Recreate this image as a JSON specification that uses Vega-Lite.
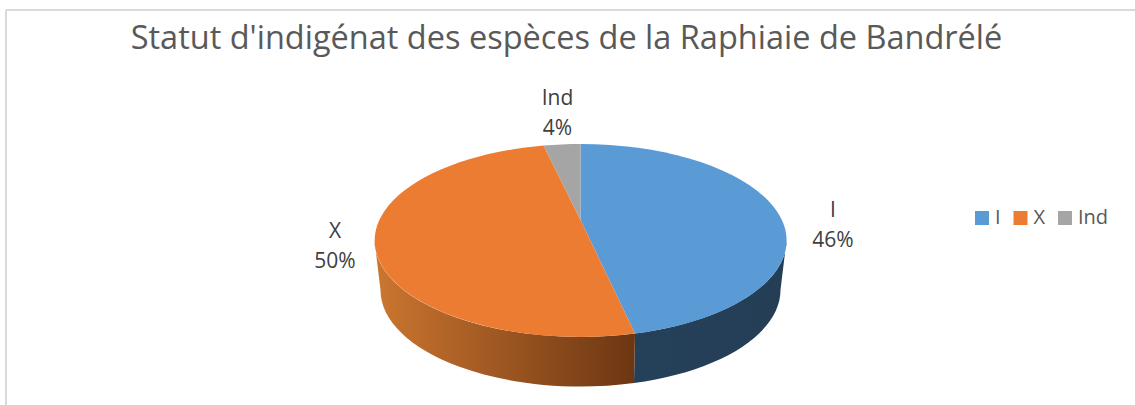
{
  "$schema": "https://vega.github.io/schema/vega-lite/v6.json",
  "width": 1129,
  "height": 395,
  "autosize": "none",
  "padding": {"left": 6, "top": 10, "right": 0, "bottom": 0},
  "background": "white",
  "view": {"stroke": null},
  "config": {"font": "Open Sans"},
  "title": {
    "text": "Statut d'indigénat des espèces de la Raphiaie de Bandrélé",
    "font": "Open Sans",
    "fontSize": 32.5,
    "fontWeight": "normal",
    "color": "#595959",
    "anchor": "middle",
    "offset": -46,
    "dx": -4
  },
  "data": {
    "values": [
      {"statut": "I", "pct": 46, "etiquette": "I\n46%"},
      {"statut": "X", "pct": 50, "etiquette": "X\n50%"},
      {"statut": "Ind", "pct": 4, "etiquette": "Ind\n4%"}
    ]
  },
  "resolve": {"scale": {"color": "shared"}},
  "layer": [
    {
      "transform": [{"filter": "datum.statut === 'I'"}],
      "mark": {"type": "rule", "color": "#D9D9D9", "strokeWidth": 2},
      "encoding": {"x": {"datum": 0, "type": "quantitative", "scale": {"domain": [0, 1]}, "axis": null}}
    },
    {
      "transform": [{"filter": "datum.statut === 'I'"}],
      "mark": {"type": "rule", "color": "#D9D9D9", "strokeWidth": 2},
      "encoding": {"y": {"datum": 1, "type": "quantitative", "scale": {"domain": [0, 1]}, "axis": null}}
    },
    {
      "transform": [{"filter": "datum.statut === 'I'"}],
      "mark": {
        "type": "point", "filled": true, "size": 4, "opacity": 1,
        "shape": "M216,33 A206,96.5 0 0 1 64.5,126.07 L63.5,175.49 A200,96.5 0 0 0 210,82.5 Z",
        "color": {"gradient": "linear", "x1": 0, "x2": 1, "y1": 0, "y2": 0, "stops": [{"offset": 0, "color": "#254059"}, {"offset": 1, "color": "#233E55"}]}
      }
    },
    {
      "transform": [{"filter": "datum.statut === 'X'"}],
      "mark": {
        "type": "point", "filled": true, "size": 4, "opacity": 1,
        "shape": "M-196,33 A206,96.5 0 0 0 64.5,126.07 L63.5,175.49 A200,96.5 0 0 1 -190,82.5 Z",
        "color": {"gradient": "linear", "x1": 0, "x2": 1, "y1": 0, "y2": 0, "stops": [{"offset": 0, "color": "#CC7630"}, {"offset": 1, "color": "#6C3612"}]}
      }
    },
    {
      "transform": [{"filter": "datum.statut === 'I'"}],
      "mark": {"type": "point", "filled": true, "size": 4, "opacity": 1, "shape": "M10,12.5 L10,-63.5 A206,96.5 0 0 1 64.5,126.07 Z"},
      "encoding": {
        "color": {
          "field": "statut", "type": "nominal",
          "scale": {"domain": ["I", "X", "Ind"], "range": ["#5B9BD5", "#EB7C31", "#A5A5A5"]},
          "legend": {
            "title": null, "orient": "none", "legendX": 966, "legendY": 198, "direction": "horizontal", "columns": 3,
            "symbolType": "square", "symbolSize": 196, "symbolStrokeWidth": 0, "symbolOpacity": 1,
            "labelFont": "Open Sans", "labelFontSize": 20, "labelColor": "#595959", "labelOffset": 3,
            "columnPadding": 9.5, "padding": 0
          }
        }
      }
    },
    {
      "transform": [{"filter": "datum.statut === 'X'"}],
      "mark": {"type": "point", "filled": true, "size": 4, "opacity": 1, "shape": "M10,12.5 L64.5,126.07 A206,96.5 0 1 1 -27,-61.93 Z"},
      "encoding": {"color": {"field": "statut", "type": "nominal"}}
    },
    {
      "transform": [{"filter": "datum.statut === 'Ind'"}],
      "mark": {"type": "point", "filled": true, "size": 4, "opacity": 1, "shape": "M10,12.5 L-27,-61.93 A206,96.5 0 0 1 10,-63.5 Z"},
      "encoding": {"color": {"field": "statut", "type": "nominal"}}
    },
    {
      "transform": [{"filter": "datum.statut === 'I'"}],
      "mark": {"type": "text", "lineBreak": "\n", "lineHeight": 30, "fontSize": 21, "color": "#404040", "font": "Open Sans", "xOffset": 262.5, "yOffset": 3},
      "encoding": {"text": {"field": "etiquette"}}
    },
    {
      "transform": [{"filter": "datum.statut === 'X'"}],
      "mark": {"type": "text", "lineBreak": "\n", "lineHeight": 30, "fontSize": 21, "color": "#404040", "font": "Open Sans", "xOffset": -235.5, "yOffset": 24},
      "encoding": {"text": {"field": "etiquette"}}
    },
    {
      "transform": [{"filter": "datum.statut === 'Ind'"}],
      "mark": {"type": "text", "lineBreak": "\n", "lineHeight": 30, "fontSize": 21, "color": "#404040", "font": "Open Sans", "xOffset": -13, "yOffset": -109},
      "encoding": {"text": {"field": "etiquette"}}
    }
  ]
}
